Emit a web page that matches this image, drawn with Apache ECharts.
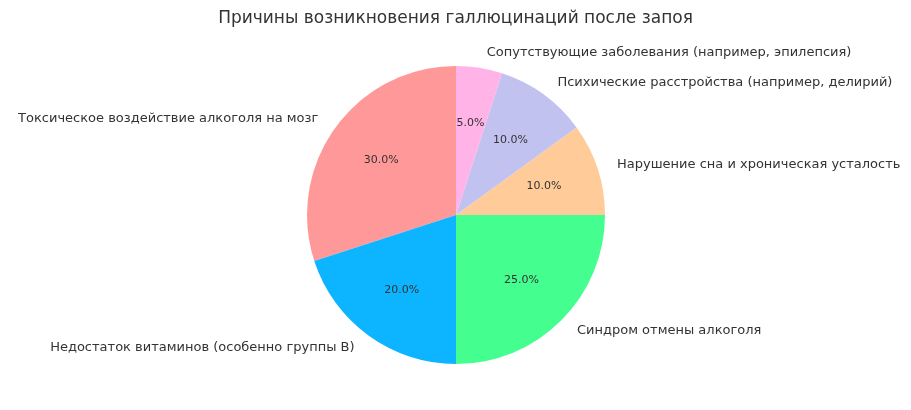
<!DOCTYPE html>
<html><head><meta charset="utf-8">
<script src="https://cdn.jsdelivr.net/npm/echarts@6/dist/echarts.min.js"></script>
<style>html,body{margin:0;padding:0;background:#fff}#c{width:911px;height:410px}</style>
</head><body><div id="c"></div>
<script>
const categories = ["Токсическое воздействие алкоголя на мозг","Недостаток витаминов (особенно группы B)","Синдром отмены алкоголя","Нарушение сна и хроническая усталость","Психические расстройства (например, делирий)","Сопутствующие заболевания (например, эпилепсия)"];
const values = [30,20,25,10,10,5];
const colors = ["#ff9999","#0db4ff","#44ff90","#ffcc99","#c2c2f0","#ffb3e6"];
const data = categories.map((n,i)=>({name:n,value:values[i],itemStyle:{color:colors[i]}}));
const font = "DejaVu Sans";
const chart = echarts.init(document.getElementById('c'));
chart.setOption({
  animation:false,
  title:{text:"Причины возникновения галлюцинаций после запоя",left:'center',top:5,textStyle:{fontFamily:font,fontSize:17,fontWeight:'normal',color:'#333'}},
  series:[
    {type:'pie',center:[456,215],radius:[0,149],startAngle:90,clockwise:false,silent:true,
     data:data,
     label:{show:true,position:'outside',fontFamily:font,fontSize:13,color:'#333',formatter:'{b}'},
     labelLine:{show:false,length:15,length2:0}},
    {type:'pie',center:[456,215],radius:[0,179],startAngle:90,clockwise:false,silent:true,
     data:data.map(d=>({name:d.name,value:d.value,itemStyle:{color:'rgba(0,0,0,0)'}})),
     label:{show:true,position:'inside',fontFamily:font,fontSize:11,color:'#333',formatter:p=>p.value.toFixed(1)+'%'},
     labelLine:{show:false}}
  ]
});
</script></body></html>
